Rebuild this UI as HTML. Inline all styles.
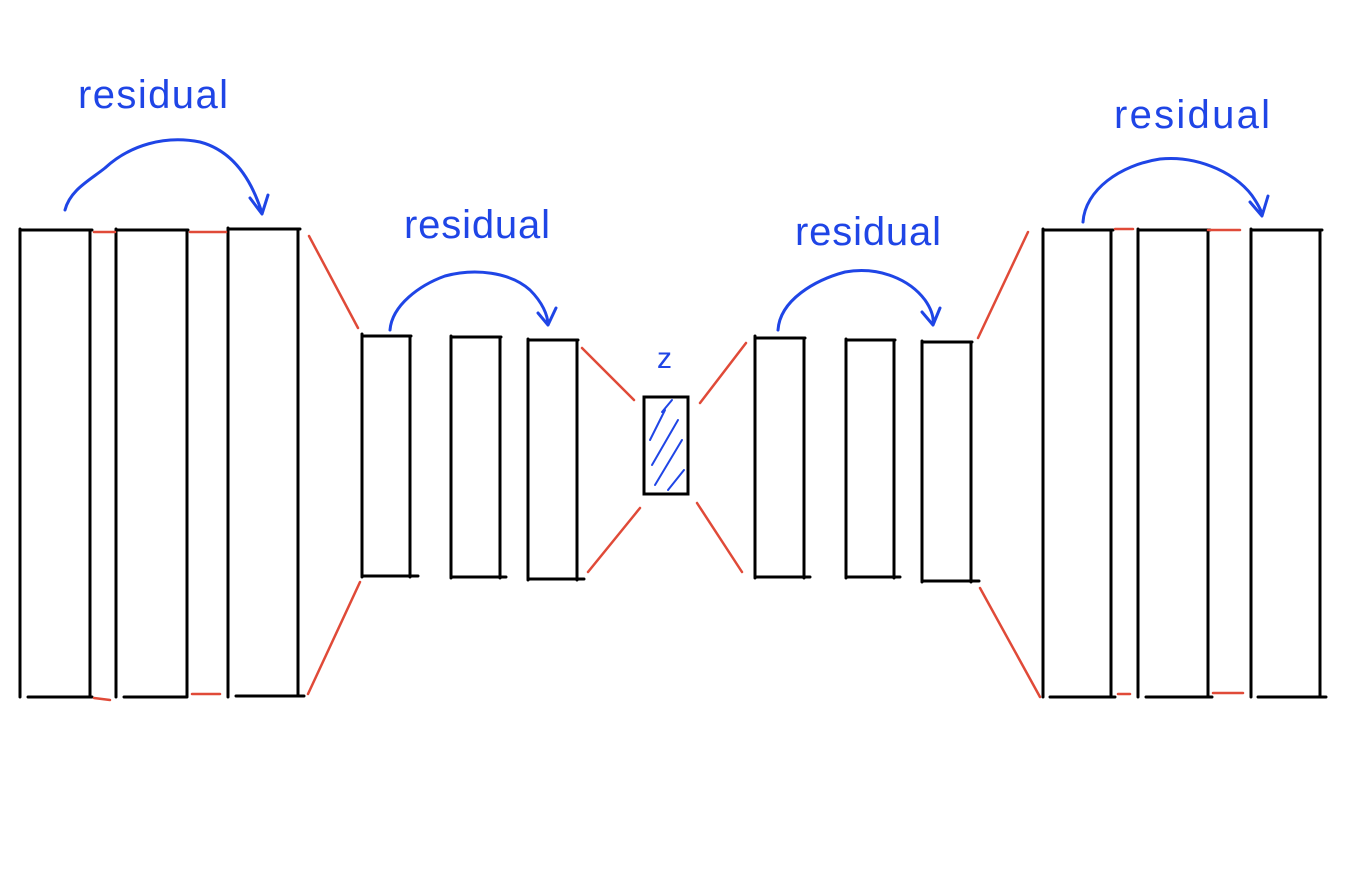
<!DOCTYPE html>
<html><head><meta charset="utf-8"><style>
html,body{margin:0;padding:0;background:#fff;}
svg{display:block;}
.k{stroke:#000;stroke-width:3;fill:none;stroke-linecap:round;}
.r{stroke:#e04a38;stroke-width:2.5;fill:none;stroke-linecap:round;}
.b{stroke:#1f45e6;stroke-width:3;fill:none;stroke-linecap:round;stroke-linejoin:round;}
.t{font-family:"Liberation Sans",sans-serif;font-size:40px;fill:#1f45e6;letter-spacing:0px;}
</style></head><body>
<svg width="1349" height="889" viewBox="0 0 1349 889">
<g>
<path class="k" d="M20 229V697M20 230H92M90 230V697M28 697H92"/>
<path class="k" d="M116 229V697M116 230H188M187 230V697M124 697H186"/>
<path class="k" d="M228 228V697M228 229H300M298 229V696M236 696H304"/>
</g>
<g>
<path class="k" d="M1043 229V697M1043 230H1113M1111 230V697M1050 697H1115"/>
<path class="k" d="M1138 229V697M1138 230H1210M1208 230V697M1146 697H1212"/>
<path class="k" d="M1251 229V697M1251 230H1322M1320 230V697M1258 697H1326"/>
</g>
<g>
<path class="k" d="M362 334V577M362 336H411M410 336V577M362 576H418"/>
<path class="k" d="M451 336V578M451 337H501M500 337V578M451 577H506"/>
<path class="k" d="M528 339V580M528 340H578M577 340V580M528 579H584"/>
</g>
<g>
<path class="k" d="M755 336V578M755 338H805M804 338V578M755 577H810"/>
<path class="k" d="M846 339V578M846 340H895M894 340V578M846 577H900"/>
<path class="k" d="M922 341V582M922 342H972M971 342V582M922 581H979"/>
</g>
<g>
<path class="k" d="M644 397H688V494H644Z"/>
<path class="b" style="stroke-width:2" d="M650 440L665 410M652 465L678 420M655 485L682 440M668 490L684 470M662 412L672 400"/>
<text class="t" x="657" y="368" style="font-size:30px">z</text>
</g>
<g>
<path class="r" d="M94 232H115M94 698L110 700M190 232H226M192 694H220"/>
<path class="r" d="M309 236L358 328M308 694L360 582"/>
<path class="r" d="M582 348L634 400M588 572L640 508"/>
<path class="r" d="M700 403L746 343M697 503L742 572"/>
<path class="r" d="M978 338L1028 232M980 588L1040 697"/>
<path class="r" d="M1115 229H1133M1118 694H1130M1208 230H1240M1213 693H1243"/>
</g>
<g>
<path class="b" d="M65 210C70 190 90 180 105 168C130 145 165 135 200 142C230 150 250 175 262 213M250 198L262 214L268 195"/>
<path class="b" d="M390 330C392 305 420 285 445 276C475 268 510 272 530 290C542 302 548 315 548 325M538 313L548 325L556 308"/>
<path class="b" d="M778 330C780 300 815 280 845 272C880 266 910 280 925 300C932 310 934 318 933 325M922 312L933 325L940 308"/>
<path class="b" d="M1083 222C1085 190 1120 165 1160 159C1200 155 1240 175 1255 200C1260 208 1262 212 1262 215M1250 202L1262 216L1268 196"/>
</g>
<text class="t" x="78" y="108" textLength="150">residual</text>
<text class="t" x="404" y="238" textLength="146">residual</text>
<text class="t" x="795" y="245" textLength="146">residual</text>
<text class="t" x="1114" y="128" textLength="156">residual</text>
</svg>
</body></html>
